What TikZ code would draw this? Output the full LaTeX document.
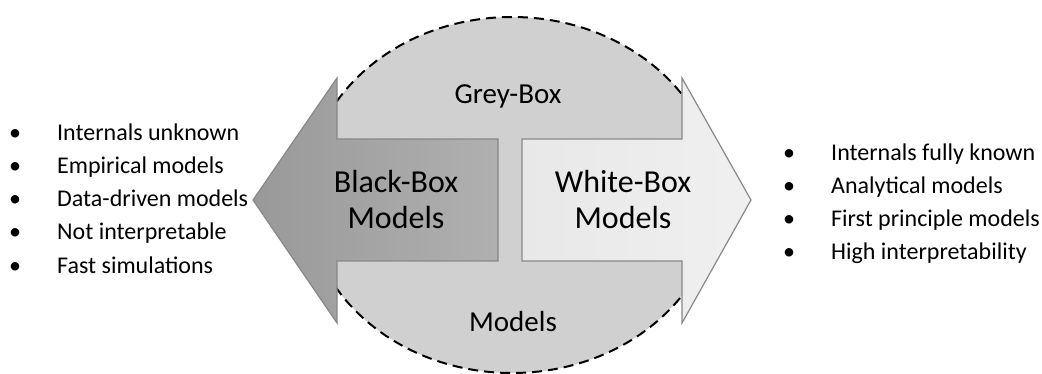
\documentclass[tikz,border=0pt]{standalone}
\usepackage{fontspec}
\setmainfont{Carlito}
\definecolor{ellgrey}{HTML}{D0D0D0}
\definecolor{edgegrey}{HTML}{888888}
\tikzset{
    every node/.style={inner sep=0pt, font=\fontsize{24}{29}\selectfont},
    listitem/.style={anchor=base west},
    bigtext/.style={align=center, font=\fontsize{32}{36}\selectfont},
    midtext/.style={font=\fontsize{29}{34}\selectfont},
    arrowshape/.style={draw=edgegrey, line width=1.2pt, line join=miter}
}
\begin{document}
\begin{tikzpicture}[x=1pt, y=-1pt]
        \useasboundingbox (0,0) rectangle (1042,374);
        % grey-box ellipse
        \draw [fill=ellgrey, dashed, dash pattern=on 10pt off 6pt, line width=2pt] (512,195) ellipse [x radius=206, y radius=178];
        % black-box arrow
        \draw [arrowshape, left color=black!40, right color=black!31] (253,200) -- (337,78) -- (337,139) -- (498,139) -- (498,261) -- (337,261) -- (337,323) -- cycle;
        % white-box arrow
        \draw [arrowshape, left color=black!9, right color=black!6] (751,200) -- (682,78) -- (682,139) -- (522,139) -- (522,261) -- (682,261) -- (682,323) -- cycle;
        \node (grey) [midtext] at (508,96) {Grey-Box};
        \node (models) [midtext] at (513,322) {Models};
        \node (black) [bigtext] at (396,200) {Black-Box\\Models};
        \node (white) [bigtext] at (623,200) {White-Box\\Models};
        % left list
        \foreach \txt [count=\i] in {Internals unknown, Empirical models, Data-driven models, Not interpretable, Fast simulations}{
                \node (lb\i) [listitem] at (9,{133+33*(\i-1)+8}) {\textbullet};
                \node (lt\i) [listitem] at (57,{133+33*(\i-1)+8}) {\txt};
        }
        % right list
        \foreach \txt [count=\i] in {Internals fully known, Analytical models, First principle models, High interpretability}{
                \node (rb\i) [listitem] at (783,{153+33*(\i-1)+8}) {\textbullet};
                \node (rt\i) [listitem] at (831,{153+33*(\i-1)+8}) {\txt};
        }
\end{tikzpicture}
\end{document}
